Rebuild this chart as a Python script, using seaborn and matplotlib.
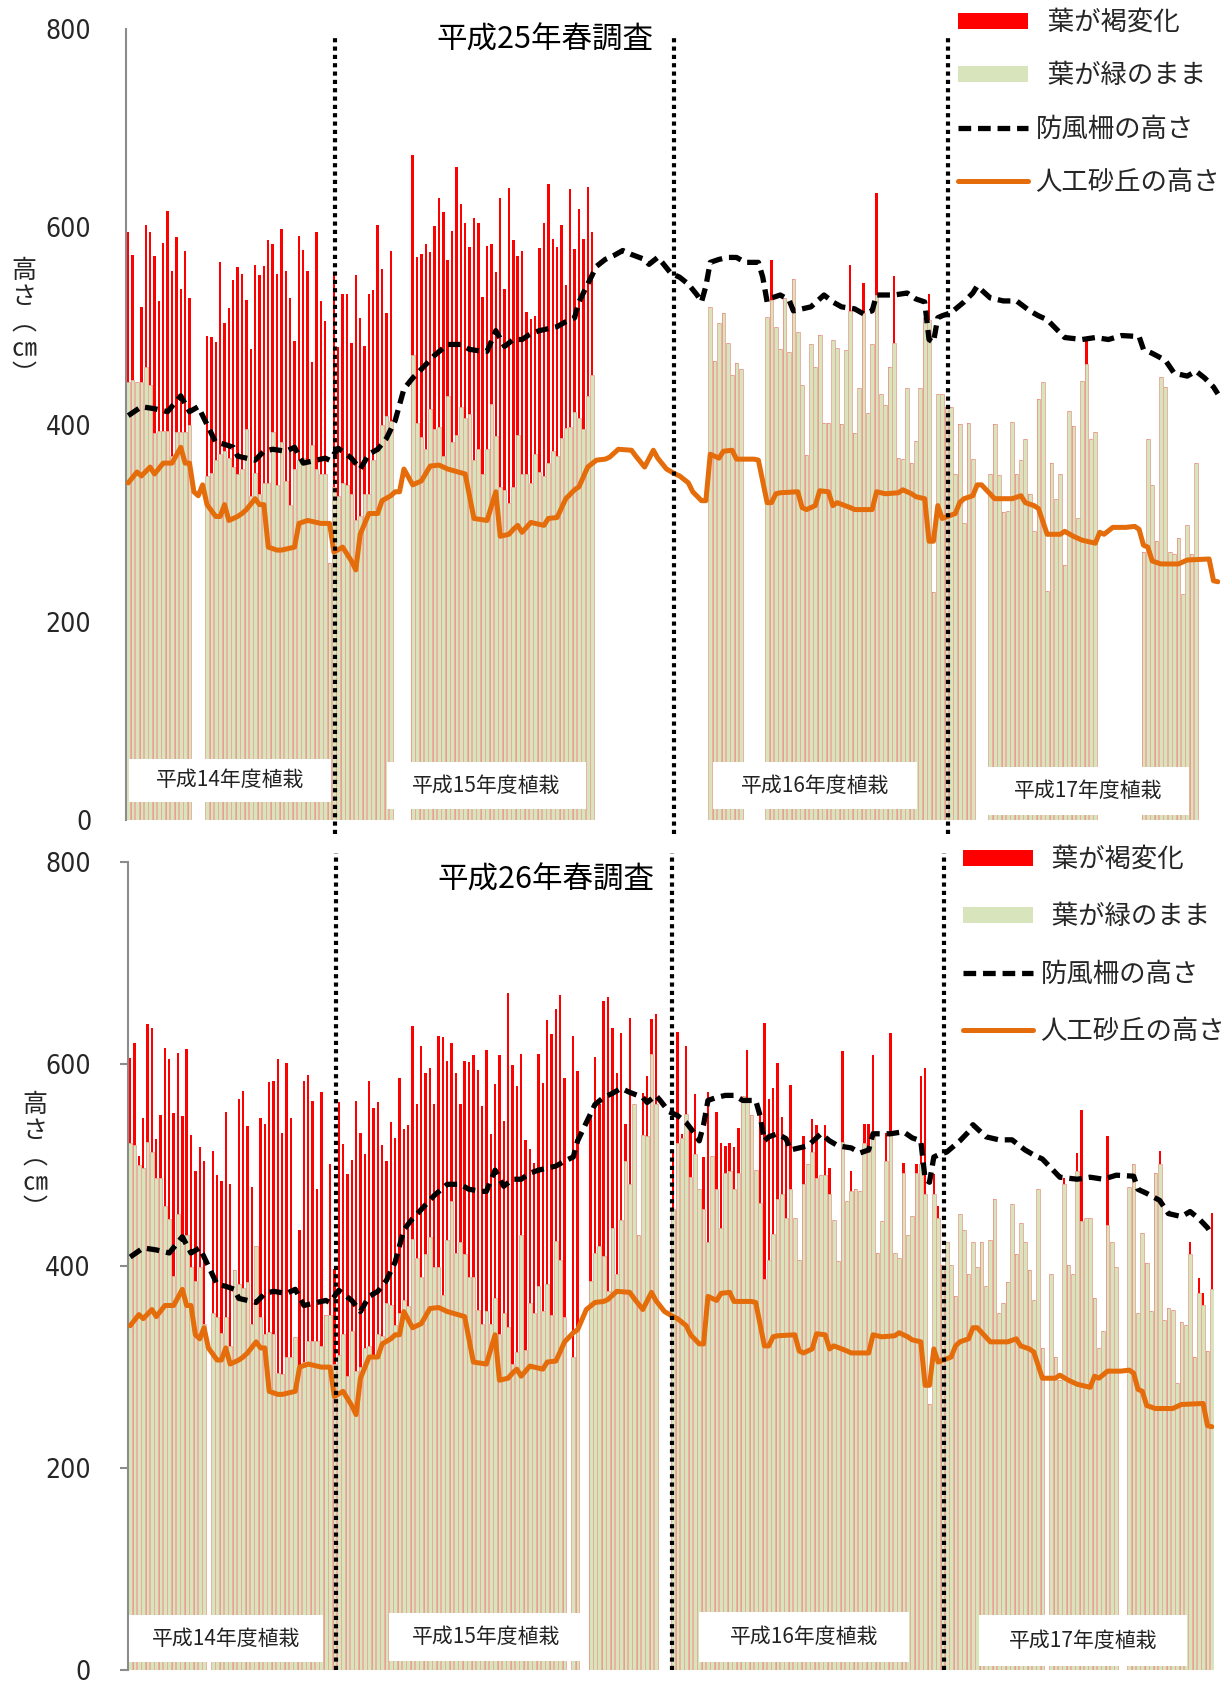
import numpy as np
import pandas as pd
import matplotlib
matplotlib.use("Agg")
import matplotlib.pyplot as plt
from matplotlib.patches import Patch, Rectangle
from matplotlib.lines import Line2D
import seaborn as sns

# tree positions along the belt (0 = no record for that survey)
n_trees = 250

# H25 spring survey: height of the still-green part and of the browned part (cm)
h25_green = [
    443, 445, 443, 443, 458, 440, 391, 393, 393, 393, 368, 392, 392, 392, 400,
    0, 0, 0,
    348, 351, 364, 370, 373, 366, 357, 350, 355, 395, 328, 351, 330, 341, 341, 392,
    339, 382, 343, 319, 355, 364, 366, 364, 379, 355, 350, 350,
    260,
    337, 328, 341, 339, 330, 303, 307, 330, 330, 364, 373, 400, 409, 404,
    0, 0, 0, 0,
    470, 402, 387, 375, 416, 395, 398, 368, 429, 382, 389, 418, 407, 411, 364, 375, 350, 375,
    421, 388, 337, 334, 321, 337, 389, 350, 350, 341, 370, 352, 348, 361, 373, 368,
    386, 396, 397, 413, 407, 395, 429, 450,
    0, 0, 0, 0, 0, 0, 0, 0, 0, 0, 0, 0, 0, 0, 0, 0, 0, 0, 0, 0, 0, 0, 0, 0, 0, 0,
    519, 464, 503, 513, 482, 450, 462, 456,
    0, 0, 0, 0, 0,
    509, 526, 499, 476, 528, 473, 547, 494, 440, 369, 481, 458, 491, 402, 402, 485,
    477, 401, 475, 515, 391, 437,
    513, 412, 481, 531, 431, 420, 458, 482, 366, 365, 437, 361, 383, 437, 508, 506,
    231, 431, 431, 418, 418, 350, 401, 300, 402, 365,
    0, 0, 0,
    350, 401, 349, 312, 313, 403, 350, 364, 385, 330, 292, 426, 443, 232, 361, 325,
    350, 258, 414, 399, 305, 444, 461, 385, 392,
    0, 0, 0, 0, 0, 0, 0, 0, 0, 0,
    271, 385, 339, 282, 448, 438, 271, 269, 285, 229, 298, 269, 361,
    0, 0, 0, 0, 0,
]
h25_brown = [
    152, 126, 0, 76, 144, 155, 179, 132, 191, 223, 187, 198, 145, 184, 128,
    0, 0, 0,
    142, 138, 119, 194, 130, 152, 189, 209, 197, 131, 148, 210, 221, 219, 246, 191,
    213, 216, 212, 209, 129, 227, 211, 191, 84, 240, 175, 155,
    0,
    214, 150, 191, 193, 152, 248, 201, 149, 202, 172, 229, 157, 104, 172,
    0, 0, 0, 0,
    203, 167, 185, 208, 158, 206, 231, 247, 137, 214, 271, 205, 197, 169, 245, 229, 179, 206,
    162, 166, 292, 203, 318, 250, 181, 226, 164, 166, 140, 227, 256, 282, 215, 212,
    216, 145, 241, 165, 211, 193, 211, 145,
    0, 0, 0, 0, 0, 0, 0, 0, 0, 0, 0, 0, 0, 0, 0, 0, 0, 0, 0, 0, 0, 0, 0, 0, 0, 0,
    0, 0, 0, 0, 0, 0, 0, 0,
    0, 0, 0, 0, 0,
    0, 40, 0, 0, 0, 0, 0, 0, 0, 0, 0, 0, 0, 0, 0, 0,
    0, 0, 0, 46, 0, 0,
    30, 0, 0, 103, 0, 0, 0, 68, 0, 0, 0, 0, 0, 0, 0, 26,
    0, 0, 0, 0, 0, 0, 0, 0, 0, 0,
    0, 0, 0,
    0, 0, 0, 0, 0, 0, 0, 0, 0, 0, 0, 0, 0, 0, 0, 0,
    0, 0, 0, 0, 0, 0, 27, 0, 0,
    0, 0, 0, 0, 0, 0, 0, 0, 0, 0,
    0, 0, 0, 0, 0, 0, 0, 0, 0, 0, 0, 0, 0,
    0, 0, 0, 0, 0,
]

# H26 spring survey
h26_green = [
    522, 520, 500, 497, 523, 513, 487, 487, 459, 447, 390, 452, 431, 431, 399, 385,
    399, 343, 0, 354, 350, 334, 350, 321, 396, 382, 378, 384, 343, 420, 350, 333,
    335, 333, 294, 293, 310, 310, 330, 300, 305, 326, 326, 326, 321, 352, 352, 303,
    312, 333, 291, 336, 296, 300, 319, 321, 310, 333, 331, 363, 361, 342, 354, 366,
    360, 427, 408, 389, 412, 429, 399, 399, 371, 426, 464, 413, 424, 412, 389, 389,
    357, 343, 356, 343, 368, 333, 354, 340, 303, 315, 431, 317, 363, 354, 380, 356,
    382, 352, 425, 406, 350, 0, 310, 336, 0, 0, 385, 413, 420, 410, 375, 438,
    392, 446, 504, 481, 560, 431, 530, 529, 610, 560, 0, 0, 0,
    457, 522, 527, 551, 488, 511, 476, 457, 424, 509, 476, 438, 492, 494, 476, 492,
    568, 565, 550, 495, 462, 387, 406, 432, 466, 471, 448, 476, 448, 406, 481, 501,
    513, 487, 490, 490, 471, 446, 405, 523, 464, 474, 476, 474, 522, 513, 534, 413,
    445, 504, 534, 413, 408, 492, 431, 450, 492, 501, 471, 263, 471, 448,
    401, 424, 401, 370, 452, 436, 392, 424, 399, 424, 380, 426, 466, 354, 363, 384,
    461, 412, 443, 424, 396, 366, 476, 319, 0, 392, 310, 287, 481, 401, 392, 494,
    445, 448, 448, 368, 319, 336, 441, 424, 399, 0, 0, 478, 501, 354, 433, 403,
    356, 492, 501, 347, 359, 357, 284, 345, 342, 412, 310, 373, 361, 316, 377,
]
h26_brown = [
    84, 101, 9, 50, 117, 123, 39, 63, 157, 158, 162, 159, 118, 184, 131, 109,
    119, 161, 0, 160, 140, 150, 203, 160, 0, 183, 195, 155, 135, 0, 197, 208,
    247, 250, 311, 239, 291, 237, 0, 136, 278, 263, 237, 150, 251, 0, 149, 94,
    250, 188, 200, 169, 267, 232, 192, 262, 247, 229, 189, 141, 182, 185, 232, 170,
    180, 211, 152, 229, 179, 167, 161, 229, 256, 177, 157, 178, 136, 191, 213, 220,
    237, 215, 258, 188, 212, 276, 190, 330, 296, 263, 179, 208, 153, 148, 230, 225,
    262, 278, 230, 262, 236, 0, 318, 257, 0, 0, 163, 194, 140, 252, 291, 198,
    199, 185, 37, 165, 0, 0, 41, 59, 35, 90, 0, 0, 0,
    58, 110, 4, 67, 51, 59, 0, 51, 148, 0, 77, 84, 27, 28, 42, 45,
    0, 49, 0, 0, 93, 254, 159, 144, 135, 77, 81, 103, 0, 0, 48, 0,
    33, 53, 0, 50, 26, 0, 0, 90, 0, 20, 0, 0, 19, 28, 75, 0,
    0, 28, 97, 0, 0, 10, 0, 0, 9, 87, 125, 0, 20, 11,
    0, 0, 0, 0, 0, 0, 0, 0, 0, 0, 0, 0, 0, 0, 0, 0,
    0, 0, 0, 0, 0, 0, 0, 0, 0, 0, 0, 0, 6, 0, 0, 18,
    110, 0, 0, 0, 0, 0, 88, 0, 0, 0, 0, 0, 0, 0, 0, 0,
    0, 0, 13, 0, 0, 0, 0, 0, 0, 12, 0, 15, 12, 0, 76,
]

# windbreak fence height and artificial dune height (cm) at tree positions
fence_pos = [0, 3, 6, 9, 12, 14, 16, 18, 20, 22, 24, 25, 27, 29, 31, 33, 36, 38, 40, 42,
             45, 46, 48, 51, 53, 55, 57, 59, 61, 63, 65, 67, 70, 73, 76, 78, 81, 82, 84, 86,
             88, 90, 92, 94, 98, 100, 102, 103, 105, 107, 109, 111, 113, 115, 118, 119, 121,
             122, 124, 126, 128, 130, 131, 132, 133, 135, 137, 139, 141, 144, 145, 146, 147,
             149, 151, 152, 154, 156, 159, 161, 163, 166, 168, 170, 171, 175, 178, 180, 182,
             183, 184, 185, 186, 188, 191, 193, 194, 197, 200, 203, 206, 208, 210, 212, 214,
             218, 221, 224, 227, 231, 232, 234, 237, 239, 242, 244, 246, 248, 249]
fence_height = [409, 418, 416, 413, 429, 413, 418, 400, 382, 380, 377, 368, 366, 364, 373,
                375, 373, 377, 361, 363, 366, 364, 376, 366, 355, 370, 375, 386, 404, 436,
                447, 456, 470, 481, 481, 476, 474, 474, 495, 479, 486, 486, 492, 495, 499,
                504, 508, 524, 542, 560, 567, 571, 576, 572, 567, 562, 569, 564, 553, 549,
                542, 531, 524, 540, 564, 567, 569, 569, 564, 564, 549, 524, 528, 531, 526,
                515, 517, 519, 531, 524, 519, 517, 512, 515, 531, 531, 533, 527, 524, 486,
                483, 508, 510, 513, 524, 533, 540, 528, 525, 525, 515, 510, 506, 497, 488,
                486, 488, 486, 490, 489, 476, 472, 465, 452, 449, 454, 447, 438, 431]

dune_pos = [0, 2, 3, 5, 6, 8, 10, 12, 13, 14, 15, 16, 17, 18, 20, 21, 22, 23, 25, 26, 27,
            29, 30, 31, 32, 34, 35, 38, 39, 41, 44, 46, 47, 49, 51, 52, 53, 55, 57, 58, 60,
            61, 62, 63, 65, 67, 69, 71, 73, 77, 79, 82, 84, 85, 87, 88, 89, 90, 92, 95, 96,
            98, 100, 102, 103, 105, 107, 109, 110, 112, 115, 116, 118, 120, 121, 123, 125,
            126, 128, 129, 131, 132, 133, 135, 136, 138, 139, 143, 144, 146, 147, 148, 149,
            153, 154, 155, 157, 158, 160, 161, 162, 165, 166, 170, 171, 173, 176, 177, 179,
            180, 182, 183, 184, 185, 186, 189, 190, 191, 193, 194, 195, 198, 202, 204, 205,
            207, 208, 210, 213, 214, 216, 218, 221, 222, 223, 225, 228, 230, 231, 232, 233,
            234, 236, 240, 242, 247, 248, 249]
dune_height = [341, 352, 348, 357, 350, 361, 361, 377, 361, 361, 332, 328, 339, 319, 307,
               307, 319, 303, 307, 310, 314, 325, 319, 319, 276, 273, 273, 276, 300, 303,
               300, 300, 271, 276, 262, 253, 289, 310, 310, 323, 328, 332, 332, 355, 339,
               343, 358, 359, 355, 350, 305, 303, 332, 287, 289, 294, 298, 291, 301, 298,
               305, 306, 325, 334, 337, 357, 364, 365, 367, 375, 374, 368, 357, 374, 366,
               355, 350, 348, 341, 332, 323, 323, 370, 366, 373, 374, 365, 365, 364, 321,
               321, 330, 331, 332, 316, 314, 318, 333, 332, 318, 321, 316, 314, 314, 332,
               330, 331, 334, 330, 327, 325, 282, 282, 318, 305, 310, 321, 325, 328, 339,
               339, 325, 325, 328, 321, 318, 315, 289, 289, 292, 287, 283, 280, 291, 289,
               296, 296, 297, 294, 278, 276, 262, 259, 259, 263, 264, 242, 241]

group_edges = [47.3, 124.7, 187.3]
planting_labels = ["平成14年度植栽", "平成15年度植栽", "平成16年度植栽", "平成17年度植栽"]
legend_labels = ["  葉が褐変化", "  葉が緑のまま", "防風柵の高さ", "人工砂丘の高さ"]

RED = "#ff0000"
GREEN = "#d8e4bc"
EDGE = "#e9a898"
ORANGE = "#e46c0a"

sns.set_style("white")
plt.rcParams['font.family'] = ['Noto Sans CJK JP', 'DejaVu Sans']

fig = plt.figure(figsize=(12.31, 16.87), dpi=100)
ax_top = fig.add_axes([0.1024, 0.5139, 0.8887, 0.4689])
ax_bot = fig.add_axes([0.1040, 0.0100, 0.8822, 0.4790])


def draw_panel(ax, green, brown, title, title_xy, boxes, edge_span, tick_len, tick_pad):
    df = pd.DataFrame({'pos': np.arange(n_trees),
                       'green': np.array(green, dtype=float),
                       'brown': np.array(brown, dtype=float)})
    df['total'] = df['green'] + df['brown']
    shown = df[df['total'] > 0]

    # stacked bars: full height in red, green part drawn over it
    sns.barplot(data=shown, x='pos', y='total', native_scale=True, color=RED,
                saturation=1, width=0.55, errorbar=None, linewidth=0, ax=ax)
    sns.barplot(data=shown, x='pos', y='green', native_scale=True, color=GREEN,
                saturation=1, width=0.85, errorbar=None, edgecolor=EDGE,
                linewidth=0.6, ax=ax)

    sns.lineplot(x=fence_pos, y=fence_height, color='black', linewidth=3.8,
                 linestyle=(0, (2.4, 1.3)), ax=ax, zorder=5)
    sns.lineplot(x=dune_pos, y=dune_height, color=ORANGE, linewidth=3.6,
                 solid_capstyle='round', ax=ax, zorder=5)

    for x in group_edges:
        ax.axvline(x, ymin=edge_span[0], ymax=edge_span[1], color='black',
                   linestyle=(0, (1, 1)), linewidth=3.0, clip_on=False, zorder=6)

    for (x0, y0, w, h), lab in zip(boxes, planting_labels):
        ax.add_patch(Rectangle((x0, y0), w, h, transform=ax.transAxes,
                               facecolor='white', edgecolor='none', zorder=4))
        ax.text(x0 + w / 2, y0 + h / 2, lab, transform=ax.transAxes, ha='center',
                va='center', fontsize=15, color='#222222', zorder=7)

    ax.text(title_xy[0], title_xy[1], title, transform=ax.transAxes, ha='center',
            va='center', fontsize=22, color='black', zorder=7)

    ax.set_xlim(-0.5, n_trees - 0.5)
    ax.set_ylim(0, 800)
    ax.set_xticks([])
    ax.set_yticks([0, 200, 400, 600, 800])
    ax.set_xlabel('')
    ax.set_ylabel('')
    ax.tick_params(axis='y', length=tick_len, width=1.5, color='#8c8c8c',
                   pad=tick_pad, labelsize=19, left=True)
    plt.setp(ax.get_yticklabels(), family='DejaVu Sans', stretch='condensed')
    for side in ['top', 'right', 'bottom']:
        ax.spines[side].set_visible(False)
    ax.spines['left'].set_color('#8c8c8c')
    ax.spines['left'].set_linewidth(1.5)


draw_panel(ax_top, h25_green, h25_brown, "平成25年春調査", (0.383, 0.986),
           [(0.0027, 0.0228, 0.1846, 0.0544), (0.2386, 0.0139, 0.1819, 0.0594),
            (0.5366, 0.0139, 0.1865, 0.0594), (0.7880, 0.0063, 0.1837, 0.0607)],
           (-0.018, 0.99), 0, 25)
draw_panel(ax_bot, h26_green, h26_brown, "平成26年春調査", (0.385, 0.978),
           [(0.0009, 0.0100, 0.1786, 0.0580), (0.2403, 0.0112, 0.1786, 0.0593),
            (0.5258, 0.0100, 0.1934, 0.0617), (0.7836, 0.0050, 0.1915, 0.0630)],
           (0.0, 1.011), 6, 21)

handles = [Patch(facecolor=RED, edgecolor='none'),
           Patch(facecolor=GREEN, edgecolor='none'),
           Line2D([], [], color='black', linewidth=3.8, linestyle=(0, (2.4, 1.3))),
           Line2D([], [], color=ORANGE, linewidth=3.6)]
for anchor, spacing in [((0.778, 0.9947), 1.0), ((0.782, 0.4985), 1.15)]:
    fig.legend(handles, legend_labels, loc='upper left', bbox_to_anchor=anchor,
               frameon=False, fontsize=19, handlelength=2.65, handleheight=0.55,
               handletextpad=0.3, labelspacing=spacing, borderpad=0,
               borderaxespad=0)

# stacked vertical axis titles
fig.text(24 / 1231, 1 - 323 / 1687, "高\nさ\n︵\n㎝\n︶", ha='center', va='center',
         fontsize=18, linespacing=1.0)
fig.text(35 / 1231, 1 - 1157 / 1687, "高\nさ\n︵\n㎝\n︶", ha='center', va='center',
         fontsize=18, linespacing=1.0)

fig.savefig('out.png', dpi=100)
